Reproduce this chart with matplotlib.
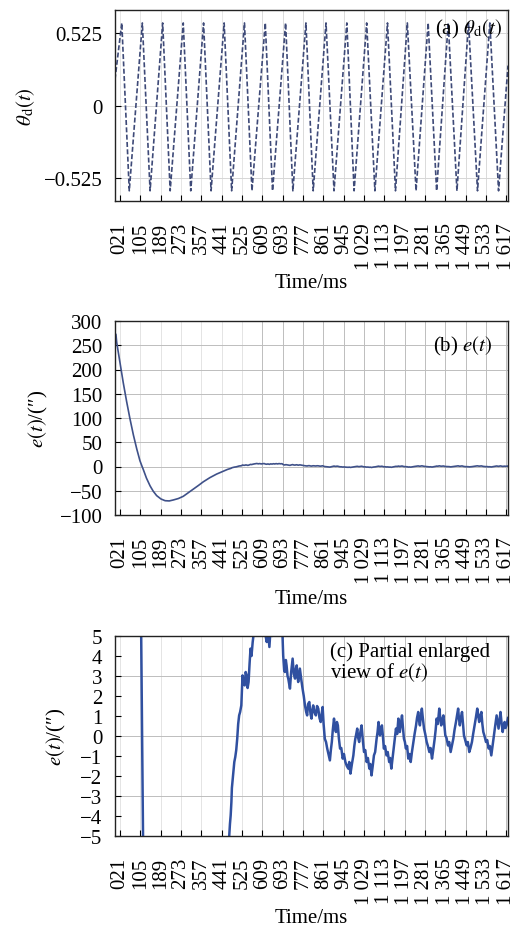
import numpy as np
import matplotlib.pyplot as plt

plt.rcParams['font.family'] = ['Liberation Serif', 'DejaVu Serif']
plt.rcParams['mathtext.fontset'] = 'stix'

# x axis ticks (ms)
tick_pos = [21, 105, 189, 273, 357, 441, 525, 609, 693, 777,
            861, 945, 1029, 1113, 1197, 1281, 1365, 1449, 1533, 1617]
tick_lab = ['021', '105', '189', '273', '357', '441', '525', '609', '693', '777',
            '861', '945', '1 029', '1 113', '1 197', '1 281',
            '1 365', '1 449', '1 533', '1 617']

# (a) desired angle: peaks / troughs
th_start = (0, 0.19)
th_end = (1624, 0.29)
peak_t = [28, 113, 197, 282, 366, 451, 535, 621, 705, 789,
          872, 958, 1040, 1126, 1208, 1294, 1377, 1461, 1549]
peak_v = [0.60, 0.60, 0.60, 0.60, 0.60, 0.60, 0.60, 0.60, 0.60, 0.60,
          0.60, 0.60, 0.60, 0.60, 0.60, 0.60, 0.60, 0.60, 0.60]
trough_t = [59, 145, 228, 313, 397, 482, 566, 651, 735, 819,
            905, 988, 1074, 1159, 1244, 1329, 1413, 1498, 1585]
trough_v = [-0.62, -0.62, -0.62, -0.62, -0.62, -0.62, -0.62, -0.62, -0.62, -0.62,
            -0.62, -0.62, -0.62, -0.62, -0.62, -0.62, -0.62, -0.62, -0.62]

# (b)/(c) tracking error e(t)
e_t = [0, 4, 7, 20, 34, 48, 62, 76, 90, 103, 108, 112, 116, 130, 145, 158, 172,
       190, 207, 224, 241, 262, 282, 303, 324, 345, 365, 392, 420, 448, 465,
       472, 475, 478, 481, 483, 486, 489, 493, 497, 501, 505, 509, 513, 517, 522, 525,
       527, 531, 536, 540, 544, 548, 552, 556, 560, 564, 569, 574,
       580, 586, 592, 598, 604, 610, 616, 621, 627, 632, 638, 643, 649, 655, 660, 666,
       672, 678, 684, 690,
       695, 699, 702, 706, 709, 713, 716, 720, 723, 728, 734, 739, 744, 748, 751, 754,
       757, 761, 764, 770, 775, 780, 785, 790, 794, 798, 803, 808, 812, 816, 819, 824,
       830, 835, 840, 845, 850, 854, 858, 862, 867, 872, 877, 882, 888, 892, 896, 900,
       905, 909, 913, 917, 921, 925, 930, 935, 941, 946, 952, 958, 964, 968, 973, 979,
       985, 989, 993, 997, 1001, 1005, 1009, 1014, 1019, 1024, 1029, 1034, 1040, 1045,
       1051, 1055, 1060, 1065, 1070, 1075, 1081, 1085, 1089, 1092, 1095, 1099, 1103,
       1107, 1111, 1116, 1122, 1127, 1133, 1137, 1142, 1146, 1150, 1155, 1161, 1166,
       1171, 1174, 1177, 1181, 1186, 1190, 1194, 1198, 1202, 1207, 1212, 1217, 1222,
       1227, 1233, 1238, 1244, 1248, 1253, 1256, 1260, 1264, 1268, 1272, 1277, 1282,
       1288, 1293, 1299, 1304, 1310, 1315, 1321, 1325, 1329, 1334, 1340, 1344, 1348,
       1352, 1357, 1361, 1365, 1370, 1376, 1381, 1387, 1392, 1398, 1403, 1409, 1413,
       1418, 1421, 1425, 1429, 1434, 1438, 1442, 1447, 1453, 1458, 1464, 1469, 1475,
       1480, 1486, 1491, 1497, 1501, 1505, 1509, 1514, 1518, 1522, 1527, 1533, 1538,
       1544, 1549, 1555, 1560, 1566, 1571, 1577, 1581, 1585, 1589, 1593, 1597, 1602,
       1606, 1610, 1614, 1618, 1624]
e_v = [275, 272, 256, 216, 173, 134, 98, 65, 36, 12, 5, 0, -5, -24, -40, -51, -60,
       -67, -70.5, -71, -69, -66, -61.5, -54, -46.5, -39, -31.5, -23, -15.6, -9.5, -6,
       -5, -4.4, -3.97, -3.3, -2.6, -2.2, -1.8, -1.3, -1.05, -0.7, -0.14, 0.6, 1.03, 1.2, 1.53, 2.4,
       3.03, 2.6, 2.53, 3.2, 3.03, 2.4, 2.7, 3.6, 4.37, 4.0, 4.7, 5.2,
       5.6, 6.2, 5.5, 6.0, 5.3, 5.8, 6.1, 5.1, 4.7, 5.3, 4.45, 5.4, 5.0, 5.7, 5.2, 5.9,
       5.3, 6.0, 5.5, 5.8,
       4.03, 3.3, 3.2, 3.8, 3.53, 3.0, 2.87, 2.6, 2.37, 3.2, 3.87, 3.1, 2.87, 3.4, 3.53, 3.0,
       2.7, 3.1, 3.37, 2.8, 2.37, 2.0, 1.53, 1.2, 1.03, 1.6, 1.7, 1.1, 0.87, 1.3, 1.53, 1.2,
       1.03, 1.5, 1.37, 0.9, 0.7, 1.1, 1.45, 0.6, -0.14, -0.3, -0.63, -0.9, -1.22, -0.7, -0.3, 0.3,
       0.87, 0.4, 0.2, 0.7, 0.53, -0.1, -0.63, -0.6, -1.13, -0.9, -1.3, -1.5, -1.63, -1.3, -1.88, -1.4,
       -0.97, -0.5, -0.14, 0.1, 0.37, -0.1, -0.3, 0.2, 0.53, -0.2, -0.8, -0.7, -1.3, -1.1,
       -1.63, -1.4, -1.97, -1.5, -0.97, -0.8, -0.14, 0.2, 0.7, 0.3, 0.03, 0.3, 0.53,
       0.0, -0.63, -0.5, -0.97, -0.8, -1.3, -1.1, -1.63, -1.2, -0.8, -0.2, 0.37, 0.1,
       0.87, 0.5, 0.2, 0.6, 1.03, 0.4, -0.14, -0.3, -0.63, -0.5, -1.13, -0.9, -1.3,
       -0.8, -0.3, 0.1, 0.53, 0.9, 1.2, 0.8, 0.53, 1.0, 1.37, 0.9, 0.37, 0.1,
       -0.3, -0.5, -0.8, -0.6, -1.13, -0.7, -0.14, 0.3, 0.87, 0.6, 1.37, 0.9, 0.53,
       0.8, 1.03, 0.5, 0.03, -0.1, -0.47, -0.3, -0.8, -0.5, -0.14, 0.3, 0.7, 1.0,
       1.37, 0.9, 0.53, 0.9, 1.2, 0.6, 0.03, -0.2, -0.47, -0.3, -0.8, -0.6, -0.3,
       0.1, 0.53, 0.9, 1.37, 1.0, 0.7, 1.0, 1.2, 0.6, 0.2, 0.0, -0.3, -0.2,
       -0.63, -0.5, -0.97, -0.5, 0.03, 0.5, 1.03, 0.7, 0.37, 0.8, 1.2, 0.7, 0.2,
       0.5, 0.7, 0.4, 0.53, 0.9]

# build theta_d polyline from the read extremes
th_t = [th_start[0]]
th_v = [th_start[1]]
for i in range(len(peak_t)):
    th_t += [peak_t[i], trough_t[i]]
    th_v += [peak_v[i], trough_v[i]]
th_t.append(th_end[0])
th_v.append(th_end[1])

fig = plt.figure(figsize=(5.14, 9.28), dpi=100)
W, H = 514, 928
fs = 15

def make_ax(top, bottom):
    return fig.add_axes([115 / W, 1 - bottom / H, 393 / W, (bottom - top) / H])

def style(ax, early_c, late_c):
    ax.set_xlim(0, 1624)
    ax.set_xticks(tick_pos)
    ax.set_xticklabels(tick_lab, rotation=90, fontsize=fs)
    ax.tick_params(axis='both', direction='in', length=4, width=0.8, labelsize=fs)
    ax.tick_params(axis='x', pad=15)
    ax.tick_params(axis='y', pad=9)
    for s in ax.spines.values():
        s.set_linewidth(1.0)
        s.set_color('#222222')
    for x in tick_pos:
        ax.axvline(x, color=early_c if x < 600 else late_c, lw=0.7, zorder=0)

grid_c = '#bdbdbd'

# (a)
ax1 = make_ax(11, 202)
style(ax1, '#e6e6e6', '#dadada')
ax1.set_ylim(-0.694, 0.694)
ax1.set_yticks([-0.525, 0, 0.525])
ax1.set_yticklabels(['−0.525', '0', '0.525'])
for y in [-0.525, 0, 0.525]:
    ax1.axhline(y, color='#d6d6d6', lw=0.7, zorder=0)
ax1.plot(th_t, th_v, color='#3e4a78', lw=1.2, linestyle=(0, (3, 1.4)))
ax1.set_ylabel(r'$\theta_{\mathrm{d}}(t)$', fontsize=fs)
ax1.yaxis.set_label_coords(-0.198, 0.5)
ax1.text(0.985, 0.965, r'(a) $\theta_{\mathrm{d}}(t)$', transform=ax1.transAxes,
         ha='right', va='top', fontsize=fs)
fig.text(311.5 / W, 1 - 284 / H, 'Time/ms', ha='center', va='center', fontsize=fs)

# (b)
ax2 = make_ax(322, 516)
style(ax2, '#e4e4e4', grid_c)
ax2.set_ylim(-100, 300)
ax2.set_yticks(range(-100, 301, 50))
for y in range(-50, 300, 50):
    ax2.axhline(y, color=grid_c, lw=0.7, zorder=0)
ax2.plot(e_t, e_v, color='#3f5189', lw=1.2)
ax2.set_ylabel(r'$e(t)$/(″)', fontsize=fs)
ax2.yaxis.set_label_coords(-0.165, 0.5)
ax2.text(0.96, 0.935, r'(b) $e(t)$', transform=ax2.transAxes,
         ha='right', va='top', fontsize=fs)
fig.text(311.5 / W, 1 - 599 / H, 'Time/ms', ha='center', va='center', fontsize=fs)

# (c)
ax3 = make_ax(637, 837)
style(ax3, '#e4e4e4', grid_c)
ax3.set_ylim(-5, 5)
ax3.set_yticks(range(-5, 6))
for y in [-3, 0, 3]:
    ax3.axhline(y, color=grid_c, lw=0.7, zorder=0)
ax3.plot(e_t, e_v, color='#3050a0', lw=1.8)
ax3.set_ylabel(r'$e(t)$/(″)', fontsize=fs)
ax3.yaxis.set_label_coords(-0.12, 0.5)
ax3.text(0.547, 0.975, '(c) Partial enlarged\nview of $e(t)$', transform=ax3.transAxes,
         ha='left', va='top', fontsize=fs, linespacing=1.0)
fig.text(311.5 / W, 1 - 919 / H, 'Time/ms', ha='center', va='center', fontsize=fs)

fig.savefig('out.png', dpi=100, facecolor='white')
